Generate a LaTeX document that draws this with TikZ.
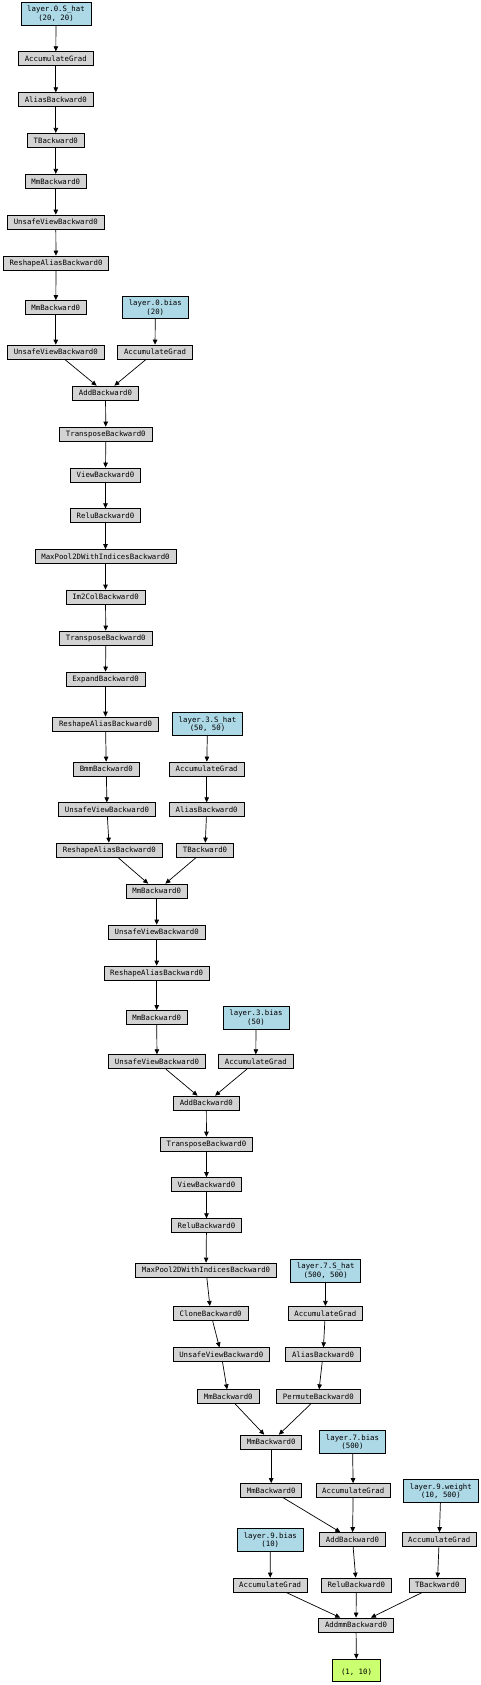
\documentclass[tikz,border=0pt]{standalone}
\usepackage{fontspec}
\newfontfamily\gvfont{DejaVu Sans Mono}
\usetikzlibrary{arrows.meta}
\definecolor{gvblue}{HTML}{ADD8E6}
\definecolor{gvgray}{HTML}{D3D3D3}
\definecolor{gvgreen}{HTML}{CAFF70}
\begin{document}
\begin{tikzpicture}[x=1pt, y=-1pt,
	fn/.style={shape=rectangle, draw, line width=0.7pt, fill=gvgray, align=center,
		font=\gvfont\fontsize{7.35}{8.6}\selectfont, inner xsep=6.3pt, inner ysep=0pt, minimum height=14pt},
	leaf/.style={fn, fill=gvblue, minimum height=22.6pt},
	outp/.style={fn, fill=gvgreen, minimum height=22.6pt, minimum width=47.6pt},
	>={Triangle[length=5pt, width=4.5pt]}, line width=0.7pt]
	\useasboundingbox (0,0) rectangle (481,1685);
	
	\node (z1)[leaf] at (56,14) {layer.0.S\_hat \\ (20, 20)};
	\node (z2)[fn] at (55.8,58.7) {AccumulateGrad};
	\node (z3)[fn] at (55.8,99.7) {AliasBackward0};
	\node (z4)[fn] at (55.8,140.3) {TBackward0};
	\node (z5)[fn] at (55.8,181.3) {MmBackward0};
	\node (z6)[fn] at (55.8,222) {UnsafeViewBackward0};
	\node (z7)[fn] at (56,263) {ReshapeAliasBackward0};
	\node (z8)[fn] at (55.8,307.5) {MmBackward0};
	\node (z9)[leaf] at (155.3,307.5) {layer.0.bias \\ (20)};
	\node (z10)[fn] at (55.8,352) {UnsafeViewBackward0};
	\node (z11)[fn] at (155,352) {AccumulateGrad};
	\node (z12)[fn] at (105.5,393) {AddBackward0};
	\node (z13)[fn] at (105.8,434) {TransposeBackward0};
	\node (z14)[fn] at (105.5,475) {ViewBackward0};
	\node (z15)[fn] at (105.5,515.7) {ReluBackward0};
	\node (z16)[fn] at (105.5,556.5) {MaxPool2DWithIndicesBackward0};
	\node (z17)[fn] at (105.5,597) {Im2ColBackward0};
	\node (z18)[fn] at (105.8,638) {TransposeBackward0};
	\node (z19)[fn] at (105.5,679) {ExpandBackward0};
	\node (z20)[fn] at (105.5,724) {ReshapeAliasBackward0};
	\node (z21)[leaf] at (207.5,724) {layer.3.S\_hat \\ (50, 50)};
	\node (z22)[fn] at (106.3,769) {BmmBackward0};
	\node (z23)[fn] at (206.7,769) {AccumulateGrad};
	\node (z24)[fn] at (107,809.7) {UnsafeViewBackward0};
	\node (z25)[fn] at (206.7,809.7) {AliasBackward0};
	\node (z26)[fn] at (109.3,850) {ReshapeAliasBackward0};
	\node (z27)[fn] at (205,850) {TBackward0};
	\node (z28)[fn] at (156.7,891) {MmBackward0};
	\node (z29)[fn] at (156.7,932) {UnsafeViewBackward0};
	\node (z30)[fn] at (156.7,973) {ReshapeAliasBackward0};
	\node (z31)[fn] at (156.7,1017.5) {MmBackward0};
	\node (z32)[leaf] at (256,1017.7) {layer.3.bias \\ (50)};
	\node (z33)[fn] at (157,1061.7) {UnsafeViewBackward0};
	\node (z34)[fn] at (255.8,1061.7) {AccumulateGrad};
	\node (z35)[fn] at (206.3,1103) {AddBackward0};
	\node (z36)[fn] at (206.5,1144) {TransposeBackward0};
	\node (z37)[fn] at (206.5,1184.5) {ViewBackward0};
	\node (z38)[fn] at (206.5,1225.7) {ReluBackward0};
	\node (z39)[fn] at (206,1270) {MaxPool2DWithIndicesBackward0};
	\node (z40)[leaf] at (325.7,1270.7) {layer.7.S\_hat \\ (500, 500)};
	\node (z41)[fn] at (210.7,1313.3) {CloneBackward0};
	\node (z42)[fn] at (325.3,1313.3) {AccumulateGrad};
	\node (z43)[fn] at (221.3,1354.7) {UnsafeViewBackward0};
	\node (z44)[fn] at (323,1354.7) {AliasBackward0};
	\node (z45)[fn] at (228.3,1396.7) {MmBackward0};
	\node (z46)[fn] at (318.3,1396.7) {PermuteBackward0};
	\node (z47)[fn] at (271.2,1442) {MmBackward0};
	\node (z48)[leaf] at (352.5,1442) {layer.7.bias \\ (500)};
	\node (z49)[fn] at (271.2,1490.5) {MmBackward0};
	\node (z50)[fn] at (353.2,1490.5) {AccumulateGrad};
	\node (z51)[leaf] at (440.8,1491) {layer.9.weight \\ (10, 500)};
	\node (z52)[leaf] at (270.3,1540) {layer.9.bias \\ (10)};
	\node (z53)[fn] at (352.5,1539.5) {AddBackward0};
	\node (z54)[fn] at (439.2,1539.5) {AccumulateGrad};
	\node (z55)[fn] at (270.2,1585) {AccumulateGrad};
	\node (z56)[fn] at (356.3,1585) {ReluBackward0};
	\node (z57)[fn] at (437.3,1585) {TBackward0};
	\node (z58)[fn] at (356,1625) {AddmmBackward0};
	\node (z59)[outp] at (356.5,1670.5) {\mbox{} \\ (1, 10)};
	
	\path[->] (z1) edge (z2);
	\path[->] (z2) edge (z3);
	\path[->] (z3) edge (z4);
	\path[->] (z4) edge (z5);
	\path[->] (z5) edge (z6);
	\path[->] (z6) edge (z7);
	\path[->] (z7) edge (z8);
	\path[->] (z8) edge (z10);
	\path[->] (z9) edge (z11);
	\path[->] (z10) edge (z12);
	\path[->] (z11) edge (z12);
	\path[->] (z12) edge (z13);
	\path[->] (z13) edge (z14);
	\path[->] (z14) edge (z15);
	\path[->] (z15) edge (z16);
	\path[->] (z16) edge (z17);
	\path[->] (z17) edge (z18);
	\path[->] (z18) edge (z19);
	\path[->] (z19) edge (z20);
	\path[->] (z20) edge (z22);
	\path[->] (z22) edge (z24);
	\path[->] (z24) edge (z26);
	\path[->] (z21) edge (z23);
	\path[->] (z23) edge (z25);
	\path[->] (z25) edge (z27);
	\path[->] (z26) edge (z28);
	\path[->] (z27) edge (z28);
	\path[->] (z28) edge (z29);
	\path[->] (z29) edge (z30);
	\path[->] (z30) edge (z31);
	\path[->] (z31) edge (z33);
	\path[->] (z32) edge (z34);
	\path[->] (z33) edge (z35);
	\path[->] (z34) edge (z35);
	\path[->] (z35) edge (z36);
	\path[->] (z36) edge (z37);
	\path[->] (z37) edge (z38);
	\path[->] (z38) edge (z39);
	\path[->] (z39) edge (z41);
	\path[->] (z41) edge (z43);
	\path[->] (z43) edge (z45);
	\path[->] (z40) edge (z42);
	\path[->] (z42) edge (z44);
	\path[->] (z44) edge (z46);
	\path[->] (z45) edge (z47);
	\path[->] (z46) edge (z47);
	\path[->] (z47) edge (z49);
	\path[->] (z48) edge (z50);
	\path[->] (z49) edge (z53);
	\path[->] (z50) edge (z53);
	\path[->] (z51) edge (z54);
	\path[->] (z52) edge (z55);
	\path[->] (z53) edge (z56);
	\path[->] (z54) edge (z57);
	\path[->] (z55) edge (z58);
	\path[->] (z56) edge (z58);
	\path[->] (z57) edge (z58);
	\path[->] (z58) edge (z59);
\end{tikzpicture}
\end{document}
